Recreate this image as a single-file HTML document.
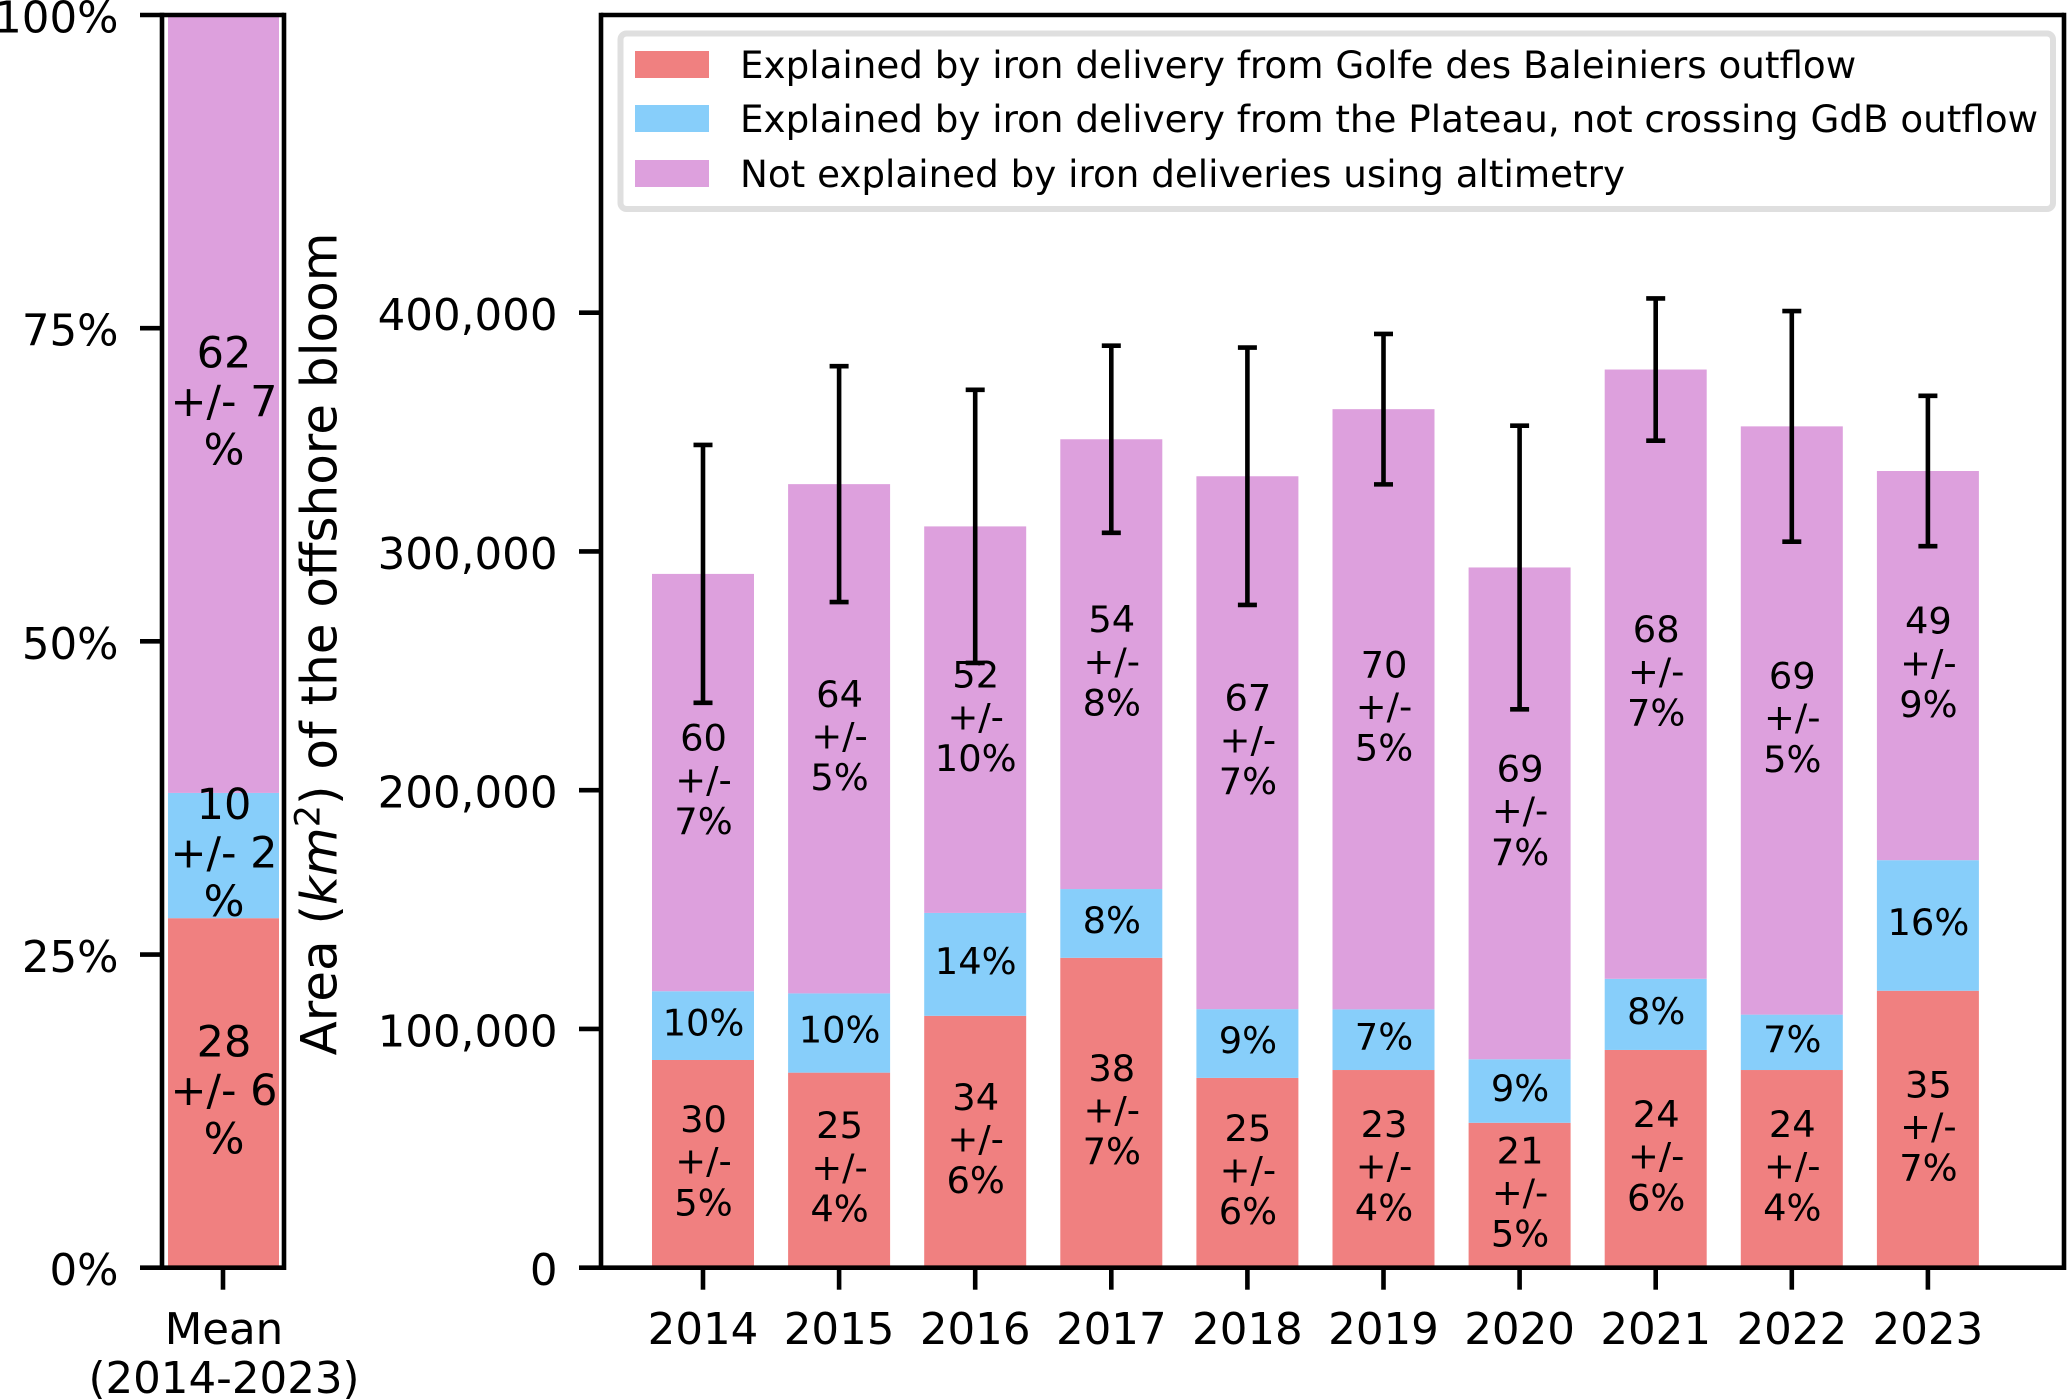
<!DOCTYPE html>
<html lang="en">
<head>
<meta charset="utf-8">
<title>Offshore bloom area explained by iron delivery</title>
<style>
html,body{margin:0;padding:0;background:#fff;width:2067px;height:1399px;overflow:hidden}
svg{display:block;font-family:"DejaVu Sans","Liberation Sans",sans-serif;fill:#000}
</style>
</head>
<body>
<svg id="chart" xmlns="http://www.w3.org/2000/svg" width="2067" height="1399" viewBox="0 0 2067 1399">
  <text transform="translate(336.7 644) rotate(-90)" text-anchor="middle" font-size="50">Area (<tspan font-style="italic">km</tspan><tspan font-size="35" dy="-17">2</tspan><tspan dy="17">) of the offshore bloom</tspan></text>
</svg>
<script>
const years = ['2014','2015','2016','2017','2018','2019','2020','2021','2022','2023'];
const golfeArea = [87000,81700,105500,129800,79500,82800,60700,91200,82800,116000];
const plateauArea = [28800,33200,43100,28800,28800,25400,26600,29800,23200,54700];
const unexplainedArea = [174800,213300,161900,188400,223200,251400,206000,255200,246400,163000];
const totalError = [54000,49400,57200,39200,53900,31500,59400,29800,48300,31500];
const golfePct = ['30','25','34','38','25','23','21','24','24','35'];
const golfeErr = ['5','4','6','7','6','4','5','6','4','7'];
const plateauPct = ['10','10','14','8','9','7','9','8','7','16'];
const unexplainedPct = ['60','64','52','54','67','70','69','68','69','49'];
const unexplainedErr = ['7','5','10','8','7','5','7','7','5','9'];
const meanCategory = ['Mean','(2014-2023)'];
const meanShares = [27.9,10,62.1];
const meanPct = ['28','10','62'];
const meanErr = ['6','2','7'];
const areaTicks = [0,100000,200000,300000,400000];
const areaTickLabels = ['0','100,000','200,000','300,000','400,000'];
const pctTicks = [0,25,50,75,100];
const pctTickLabels = ['0%','25%','50%','75%','100%'];
const seriesNames = ['Explained by iron delivery from Golfe des Baleiniers outflow','Explained by iron delivery from the Plateau, not crossing GdB outflow','Not explained by iron deliveries using altimetry'];
const seriesColors = ['#f08080','#87cefa','#dda0dd'];

const svg = document.getElementById('chart');
const NS = 'http://www.w3.org/2000/svg';
const BASE = 1267.7, TOP = 15, INK = '#000', LW = 4.6, TICK = 22;
const yArea = v => BASE - v / 524700 * (BASE - TOP);
const yPct = p => BASE - p / 100 * (BASE - TOP);
const xYear = i => 703 + 136.1 * i;
const MAIN_L = 601, MAIN_R = 2064, MEAN_L = 162, MEAN_R = 284, MEAN_C = 223;
const BAR_W = 102;

function make(tag, attrs, text) {
  const el = document.createElementNS(NS, tag);
  for (const k in attrs) el.setAttribute(k, attrs[k]);
  if (text !== undefined) el.textContent = text;
  svg.appendChild(el);
  return el;
}
function hLine(x1, x2, y) {
  return make('line', {x1: x1, x2: x2, y1: y, y2: y, stroke: INK, 'stroke-width': LW});
}
function vLine(x, y1, y2) {
  return make('line', {x1: x, x2: x, y1: y1, y2: y2, stroke: INK, 'stroke-width': LW});
}
function stackedLabel(lines, cx, cy, size, gap) {
  const first = cy - gap * (lines.length - 1) / 2 + size * 0.365;
  const group = [];
  lines.forEach((t, n) => {
    const el = make('text', {x: cx, y: first + n * gap, 'text-anchor': 'middle', 'font-size': size}, t);
    
    
    group.push(el);
  });
  return group;
}

/* mean panel bars */
let meanBottom = 0;
meanShares.forEach((share, s) => {
  const top = meanBottom + share;
  const y1 = yPct(top), y2 = yPct(meanBottom);
  const bar = make('rect', {x: 168, y: y1, width: 111, height: y2 - y1, fill: seriesColors[s]});
  
  
  meanBottom = top;
});
meanBottom = 0;
meanShares.forEach((share, s) => {
  const mid = yPct(meanBottom + share / 2);
  stackedLabel([meanPct[s], '+/- ' + meanErr[s], '%'], MEAN_C + 1, mid - 3.6, 43, 48.5);
  meanBottom += share;
});

/* yearly stacked bars */
years.forEach((yr, i) => {
  const stacks = [golfeArea[i], plateauArea[i], unexplainedArea[i]];
  let base = 0;
  stacks.forEach((v, s) => {
    const y1 = yArea(base + v), y2 = yArea(base);
    const bar = make('rect', {x: xYear(i) - BAR_W / 2, y: y1, width: BAR_W, height: y2 - y1, fill: seriesColors[s]});
    
    
    base += v;
  });
});

/* error bars */
years.forEach((yr, i) => {
  const total = golfeArea[i] + plateauArea[i] + unexplainedArea[i];
  const cx = xYear(i);
  const hi = yArea(total + totalError[i]), lo = yArea(total - totalError[i]);
  const stem = vLine(cx, hi, lo);
  
  
  const capHi = hLine(cx - 9.5, cx + 9.5, hi);
  
  
  const capLo = hLine(cx - 9.5, cx + 9.5, lo);
  
  
});

/* bar labels */
years.forEach((yr, i) => {
  const cx = xYear(i) + 0.5;
  const g = golfeArea[i], p = plateauArea[i], u = unexplainedArea[i];
  stackedLabel([golfePct[i], '+/-', golfeErr[i] + '%'], cx, yArea(g / 2) - 3.7, 36.8, 41.7);
  stackedLabel([plateauPct[i] + '%'], cx, yArea(g + p / 2) - 3.7, 36.8, 41.7);
  stackedLabel([unexplainedPct[i], '+/-', unexplainedErr[i] + '%'], cx, yArea(g + p + u / 2) - 3.7, 36.8, 41.7);
});

/* mean panel axes */
[[MEAN_L, TOP, MEAN_L, BASE], [MEAN_R, TOP, MEAN_R, BASE]].forEach(a => {
  const sp = vLine(a[0], a[1] - LW / 2, a[3] + LW / 2);
  
  
});
[TOP, BASE].forEach(y => {
  const sp = hLine(MEAN_L, MEAN_R, y);
  
  
});
pctTicks.forEach((p, i) => {
  const y = yPct(p);
  const t = hLine(MEAN_L - TICK, MEAN_L, y);
  
  
  const l = make('text', {x: 118.5, y: y + 17.5, 'text-anchor': 'end', 'font-size': 43.5}, pctTickLabels[i]);
  
  
});
const meanTick = vLine(MEAN_C, BASE, BASE + TICK);


meanCategory.forEach((t, n) => {
  const l = make('text', {x: MEAN_C + 1, y: 1344 + n * 49, 'text-anchor': 'middle', 'font-size': 43.5}, t);
  
  
});

/* main axes */
[MAIN_L, MAIN_R].forEach(x => {
  const sp = vLine(x, TOP - LW / 2, BASE + LW / 2);
  
  
});
[TOP, BASE].forEach(y => {
  const sp = hLine(MAIN_L, MAIN_R, y);
  
  
});
areaTicks.forEach((v, i) => {
  const y = yArea(v);
  const t = hLine(MAIN_L - TICK, MAIN_L, y);
  
  
  const l = make('text', {x: 557.5, y: y + 17.5, 'text-anchor': 'end', 'font-size': 43.5}, areaTickLabels[i]);
  
  
});
years.forEach((yr, i) => {
  const x = xYear(i);
  const t = vLine(x, BASE, BASE + TICK);
  
  
  const l = make('text', {x: x, y: 1344, 'text-anchor': 'middle', 'font-size': 43.5}, yr);
  
  
});

/* legend */
const box = make('rect', {x: 620.5, y: 33.5, width: 1432.5, height: 175.5, rx: 6, ry: 6, fill: '#fff', stroke: '#dfdfdf', 'stroke-width': 6});


const legendSwatchTops = [51, 105, 160];
seriesNames.forEach((name, i) => {
  const sw = make('rect', {x: 635, y: legendSwatchTops[i], width: 74, height: 27, fill: seriesColors[i]});
  
  
  const t = make('text', {x: 740, y: legendSwatchTops[i] + 27, 'font-size': 37.25}, name);
  
  
});
</script>
</body>
</html>
